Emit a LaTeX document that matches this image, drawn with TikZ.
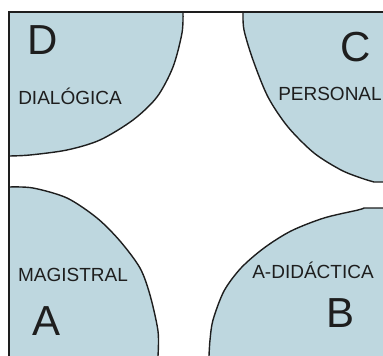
\documentclass[tikz,border=0pt]{standalone}
\usepackage{fontspec}
\setmainfont{Liberation Sans}
\definecolor{zonefill}{RGB}{190,215,223}
\definecolor{inkc}{RGB}{30,30,30}
\begin{document}
\begin{tikzpicture}[x=1pt,y=-1pt,
  zone/.style={fill=zonefill,draw=none},
  edge/.style={draw=inkc,line width=1.4pt,line join=round},
  frame/.style={draw=inkc,line width=1.6pt},
  biglet/.style={text=inkc,font=\fontsize{42}{42}\selectfont,inner sep=0pt},
  lbl/.style={text=inkc,font=\fontsize{19}{19}\selectfont,inner sep=0pt}]
\useasboundingbox (0,0) rectangle (383,356);
% D (top-left)
\fill[zone] (9,12) -- plot[smooth] coordinates {(183,12) (182,33) (173,67) (157,97) (133,120) (100,140) (67,150) (30,155) (9,156)} -- cycle;
\draw[edge] plot[smooth] coordinates {(183,12) (182,33) (173,67) (157,97) (133,120) (100,140) (67,150) (30,155) (9,156)};
% C (top-right)
\fill[zone] plot[smooth] coordinates {(243,12) (244,30) (253,60) (268,97) (288,127) (314,153) (341,170) (361,178) (374,182)} -- (383,182) -- (383,12) -- cycle;
\draw[edge] plot[smooth] coordinates {(243,12) (244,30) (253,60) (268,97) (288,127) (314,153) (341,170) (361,178) (374,182)} -- (383,182);
% A (bottom-left)
\fill[zone] plot[smooth] coordinates {(9,187) (33,188) (67,198) (97,218) (120,241) (140,268) (150,295) (158,331) (158,356)} -- (9,356) -- cycle;
\draw[edge] plot[smooth] coordinates {(9,187) (33,188) (67,198) (97,218) (120,241) (140,268) (150,295) (158,331) (158,356)};
% B (bottom-right)
\fill[zone] plot[smooth] coordinates {(209,356) (210,340) (213,320) (224,291) (241,268) (264,248) (291,231) (324,218) (358,210) (364,208)} -- (383,208) -- (383,356) -- cycle;
\draw[edge] plot[smooth] coordinates {(209,356) (210,340) (213,320) (224,291) (241,268) (264,248) (291,231) (324,218) (358,210) (364,208)} -- (383,208);
% frame
\draw[frame] (9,356) -- (9,12) -- (383,12);
% labels
\node[biglet] (letD) at (43,40) {D};
\node[lbl] (txtD) at (70,96) {DIALÓGICA};
\node[biglet] (letC) at (356,47) {C};
\node[lbl] (txtC) at (330,94) {PERSONAL};
\node[lbl] (txtA) at (73,275) {MAGISTRAL};
\node[biglet] (letA) at (47,321) {A};
\node[lbl] (txtB) at (313,270) {A-DIDÁCTICA};
\node[biglet] (letB) at (341,313) {B};
\end{tikzpicture}
\end{document}
